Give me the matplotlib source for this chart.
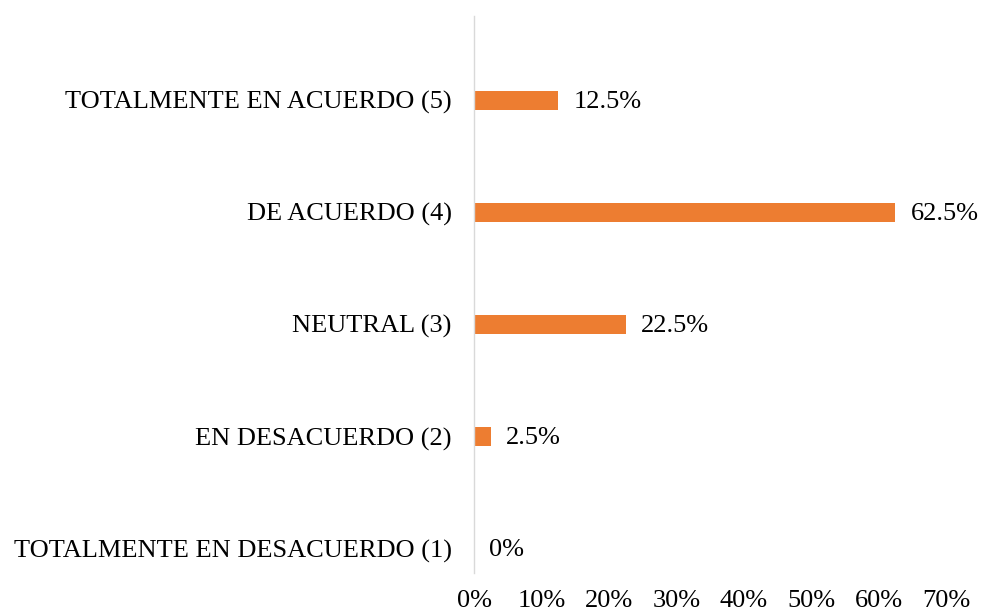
import matplotlib
matplotlib.use("Agg")
import matplotlib.pyplot as plt
from matplotlib.ticker import FuncFormatter

categories = ["TOTALMENTE EN DESACUERDO (1)", "EN DESACUERDO (2)", "NEUTRAL (3)",
              "DE ACUERDO (4)", "TOTALMENTE EN ACUERDO (5)"]
values = [0.0, 0.025, 0.225, 0.625, 0.125]
value_labels = ["0%", "2.5%", "22.5%", "62.5%", "12.5%"]
xticks = [0, 0.1, 0.2, 0.3, 0.4, 0.5, 0.6, 0.7]

plt.rcParams['font.family'] = ['Liberation Serif', 'DejaVu Serif']
FS = 19

fig = plt.figure(figsize=(9.81, 6.15), dpi=100)
ax = fig.add_axes([474/981, 1 - 573/615, (946 - 474)/981, (573 - 16)/615])

pos = list(range(len(categories)))
ax.barh(pos, values, height=0.17, color="#ED7D31")
for p, v, t in zip(pos, values, value_labels):
    ax.annotate(t, (v, p), xytext=(11, -1.5), textcoords="offset points",
                va="center", ha="left", fontsize=FS, color="#000000")

ax.set_xlim(0, 0.7)
ax.set_ylim(-0.22, 4.75)
ax.set_yticks(pos)
ax.set_yticklabels(categories, fontsize=FS)
ax.set_xticks(xticks)
ax.xaxis.set_major_formatter(FuncFormatter(lambda x, _: f"{round(x*100)}%"))
for lab in ax.get_xticklabels():
    lab.set_fontsize(FS)
ax.tick_params(axis="y", length=0, pad=16)
ax.tick_params(axis="x", length=0, pad=12)
for s in ["top", "right", "bottom"]:
    ax.spines[s].set_visible(False)
ax.spines["left"].set_color("#D9D9D9")
ax.spines["left"].set_linewidth(1.0)

fig.savefig("out.png", dpi=100)
